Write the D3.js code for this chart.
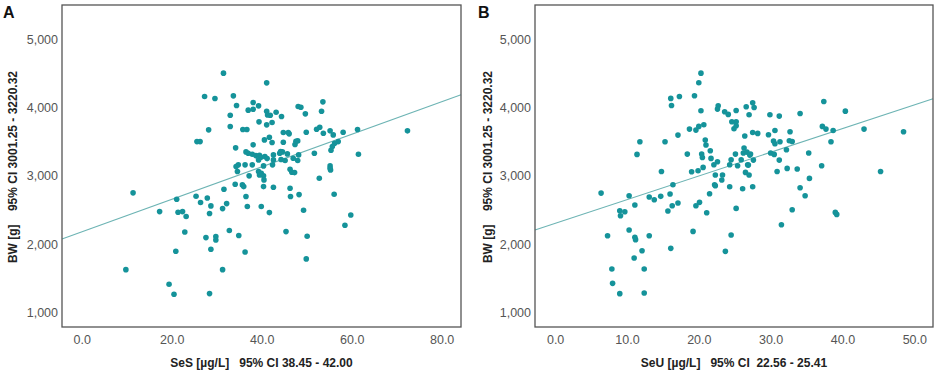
<!DOCTYPE html>
<html>
<head>
<meta charset="utf-8">
<script src="https://cdn.jsdelivr.net/npm/d3@7"></script>
<style>
  body { margin: 0; background: #fff; }
  svg { font-family: "Liberation Sans", Arial, sans-serif; }
</style>
</head>
<body>
<svg id="chart" width="945" height="376"></svg>
<script>

// panel A : SeS [µg/L] vs BW [g]
var sesX = [31.5,41.1,27.3,29.6,33.7,34.4,38.1,39.3,37.0,38.1,41.1,33.0,41.3,41.9,43.2,44.4,33.0,39.4,41.1,42.3,
  28.2,35.8,36.7,44.8,41.7,40.6,42.3,25.6,26.3,38.1,34.2,36.5,37.0,37.9,38.7,39.5,39.8,40.7,42.6,44.0,
  44.6,45.7,47.0,39.3,41.2,42.6,44.3,45.2,48.0,48.2,37.9,36.3,34.8,34.3,34.6,40.4,42.4,46.3,46.7,47.3,
  37.2,39.3,39.9,40.4,39.5,40.5,34.1,35.7,36.0,40.4,42.6,46.3,31.6,36.5,46.4,48.3,25.4,27.9,26.4,32.2,
  28.7,31.3,36.8,39.9,41.7,49.3,28.4,21.1,17.3,21.4,22.4,23.2,22.9,32.8,34.9,27.6,29.8,29.8,28.7,20.9,
  36.3,45.4,50.1,49.9,31.3,9.8,11.4,19.4,20.5,28.4,58.5,59.8,56.1,72.4,61.3,61.5,58.1,57.0,56.2,55.7,
  55.9,55.2,55.4,55.2,55.3,55.2,52.8,51.7,52.2,52.9,53.7,49.9,49.7,53.3,53.6,48.1,48.7,47.6,47.4,48.0,
  46.1,45.9,44.8,44.2]
var sesY = [4502,4360,4160,4130,4170,4028,4072,4023,3960,3974,3945,3886,3890,3886,3930,3867,3720,3789,3745,3779,
  3672,3676,3676,3632,3564,3525,3486,3500,3500,3452,3408,3349,3330,3315,3295,3300,3271,3281,3305,3330,
  3349,3320,3256,3232,3251,3232,3237,3222,3222,3305,3159,3159,3159,3134,3061,3144,3159,3095,3051,3046,
  2998,3061,3036,2998,3012,2939,2876,2866,2841,2841,2832,2817,2802,2695,2695,2724,2700,2675,2607,2592,
  2558,2519,2549,2549,2460,2495,2446,2656,2475,2465,2475,2402,2177,2197,2124,2094,2109,2060,1923,1894,
  1884,2182,2114,1782,1625,1625,2749,1410,1264,1274,2275,2426,2729,3657,3676,3315,3637,3500,3476,3427,
  3598,3657,3374,3144,3085,3110,2963,3330,3681,3711,3623,3637,3906,3945,4082,4013,4003,3505,3457,3510,
  3613,3632,3491,3354]

// panel B : SeU [µg/L] vs BW [g]
var seuX = [20.3,20.0,19.4,17.3,16.1,16.2,20.3,22.7,22.6,23.6,24.1,25.2,26.6,27.5,27.7,27.0,29.9,31.2,34.1,37.4,
  40.4,43.0,48.5,45.3,37.2,37.7,38.7,38.4,37.1,39.0,39.2,32.7,32.6,33.0,30.6,29.7,30.4,30.6,31.3,32.2,
  30.0,30.5,35.3,31.2,30.9,32.3,33.7,35.4,34.1,34.8,33.0,31.5,28.2,27.5,26.4,25.2,24.6,24.9,25.2,26.3,
  26.2,26.7,27.1,27.6,27.2,25.1,25.9,24.5,25.4,24.3,26.8,26.9,26.5,27.0,26.1,27.5,24.3,25.2,24.5,23.7,
  23.3,23.2,22.3,22.2,22.3,22.6,22.1,21.6,21.7,20.9,21.0,20.4,20.5,20.6,19.9,19.0,18.4,18.7,19.6,20.0,
  20.7,21.5,21.1,20.1,19.6,19.2,17.1,15.3,14.8,16.4,16.0,17.1,16.3,15.7,14.7,13.8,13.1,16.1,11.8,11.4,
  10.3,11.1,9.0,9.7,9.1,6.4,7.3,10.3,11.1,11.2,13.1,12.1,11.0,7.9,8.0,9.0,12.4,12.4]
var seuY = [4502,4361,4171,4161,4132,4029,3951,4024,3976,3937,3898,3956,4010,4068,4000,3893,3893,3873,3912,4088,
  3946,3683,3644,3063,3722,3683,3663,3498,3146,2463,2434,3644,3512,3502,3663,3600,3507,3468,3498,3380,
  3332,3312,3332,3229,3063,3107,3098,2961,2824,2707,2502,2283,3620,3634,3581,3790,3790,3688,3732,3405,
  3332,3346,3302,3229,3317,3317,3234,3234,3146,3161,3161,3156,3049,3010,2810,2839,2839,2522,2132,1893,
  3010,2937,3010,2868,2854,3205,3161,3366,3254,3522,3449,3317,3268,3122,3073,3059,3317,3683,3668,3722,
  3746,2737,2459,2610,2561,2185,3595,3498,3063,2868,2732,2600,2561,2483,2698,2649,2688,1937,3498,3312,
  2707,2571,2488,2473,2415,2746,2122,2205,2098,2064,2122,1902,1795,1634,1424,1273,1634,1283]

var yTicks = [1000, 2000, 3000, 4000, 5000]
var yTitle = "BW [g]    95% CI 3001.25 - 3220.32"

var panels = [
  { label: "A", xs: sesX, ys: sesY, xDomain: [-4.4, 84.3], xTicks: [0, 20, 40, 60, 80],
    fit: [2178, 23.8], xTitle: "SeS [µg/L]   95% CI 38.45 - 42.00",
    left: 62, right: 461 },
  { label: "B", xs: seuX, ys: seuY, xDomain: [-2.8, 52.6], xTicks: [0, 10, 20, 30, 40, 50],
    fit: [2302, 34.7], xTitle: "SeU [µg/L]   95% CI  22.56 - 25.41",
    left: 535, right: 933 }
]

var dimensions = { top: 5, bottom: 327 }

var svg = d3.select("#chart")

panels.forEach(function(p, k) {
  var g = svg.append("g")
  var offset = k * 475

  var xScale = d3.scaleLinear()
                 .domain(p.xDomain)
                 .range([p.left, p.right])

  var yScale = d3.scaleLinear()
                 .domain([785, 5500])
                 .range([dimensions.bottom, dimensions.top])

  // regression line, clipped to the plot box
  var x0 = p.xDomain[0], x1 = p.xDomain[1]
  g.append("line")
   .attr("x1", xScale(x0)).attr("y1", yScale(p.fit[0] + p.fit[1] * x0))
   .attr("x2", xScale(x1)).attr("y2", yScale(p.fit[0] + p.fit[1] * x1))
   .attr("stroke", "#6db4b4")
   .attr("stroke-width", 1.1)

  g.selectAll("circle")
   .data(p.xs)
   .enter()
   .append("circle")
   .attr("cx", d => xScale(d))
   .attr("cy", (d, i) => yScale(p.ys[i]))
   .attr("r", 2.8)
   .attr("fill", "#15939a")

  // frame
  g.append("rect")
   .attr("x", p.left).attr("y", dimensions.top)
   .attr("width", p.right - p.left).attr("height", dimensions.bottom - dimensions.top)
   .attr("fill", "none")
   .attr("stroke", "#555")
   .attr("stroke-width", 1.3)

  var xAxisgen = d3.axisBottom(xScale)
                   .tickValues(p.xTicks)
                   .tickSize(0)
                   .tickPadding(8)
                   .tickFormat(d3.format(".1f"))

  var yAxisgen = d3.axisLeft(yScale)
                   .tickValues(yTicks)
                   .tickSize(0)
                   .tickPadding(4)
                   .tickFormat(d3.format(","))

  var xAxis = g.append("g")
               .attr("transform", `translate(0,${dimensions.bottom})`)
               .call(xAxisgen)
  var yAxis = g.append("g")
               .attr("transform", `translate(${p.left},0)`)
               .call(yAxisgen)

  ;[xAxis, yAxis].forEach(function(a) {
    a.select(".domain").remove()
    a.selectAll("text")
     .attr("fill", "#555")
     .style("font-size", "12.5px")
     .style("font-family", "'Liberation Sans', Arial, sans-serif")
  })

  g.append("text")
   .attr("x", (p.left + p.right) / 2)
   .attr("y", 367)
   .attr("text-anchor", "middle")
   .style("font-size", "12px")
   .style("font-weight", "bold")
   .attr("fill", "#222")
   .attr("xml:space", "preserve")
   .text(p.xTitle)

  g.append("text")
   .attr("transform", `translate(${offset + 17},167) rotate(-90)`)
   .attr("text-anchor", "middle")
   .style("font-size", "12px")
   .style("font-weight", "bold")
   .attr("fill", "#222")
   .attr("xml:space", "preserve")
   .text(yTitle)

  g.append("text")
   .attr("x", offset + 3)
   .attr("y", 18)
   .style("font-size", "16px")
   .style("font-weight", "bold")
   .attr("fill", "#111")
   .text(p.label)
})

</script>
</body>
</html>
